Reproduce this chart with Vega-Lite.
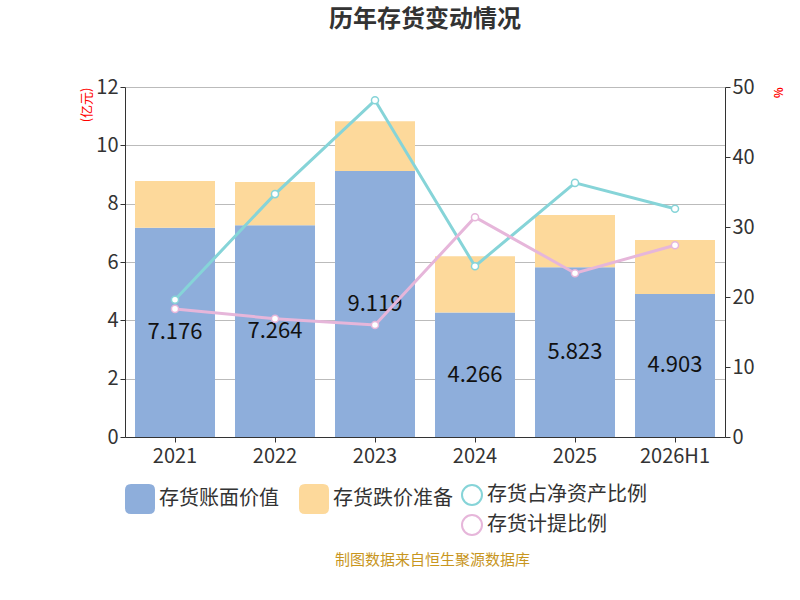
{
  "$schema": "https://vega.github.io/schema/vega-lite/v6.json",
  "padding": {"left": 80, "top": 8, "right": 0, "bottom": 5},
  "title": {"text": "制图数据来自恒生聚源数据库", "orient": "bottom", "fontSize": 15, "fontWeight": "normal", "color": "#C8961E", "offset": 14, "anchor": "middle"},
  "datasets": {
    "bars": [
      {"year": "2021", "type": "存货账面价值", "value": 7.176, "label": "7.176", "ord": 0},
      {"year": "2021", "type": "存货跌价准备", "value": 1.60, "ord": 1},
      {"year": "2022", "type": "存货账面价值", "value": 7.264, "label": "7.264", "ord": 0},
      {"year": "2022", "type": "存货跌价准备", "value": 1.48, "ord": 1},
      {"year": "2023", "type": "存货账面价值", "value": 9.119, "label": "9.119", "ord": 0},
      {"year": "2023", "type": "存货跌价准备", "value": 1.71, "ord": 1},
      {"year": "2024", "type": "存货账面价值", "value": 4.266, "label": "4.266", "ord": 0},
      {"year": "2024", "type": "存货跌价准备", "value": 1.93, "ord": 1},
      {"year": "2025", "type": "存货账面价值", "value": 5.823, "label": "5.823", "ord": 0},
      {"year": "2025", "type": "存货跌价准备", "value": 1.79, "ord": 1},
      {"year": "2026H1", "type": "存货账面价值", "value": 4.903, "label": "4.903", "ord": 0},
      {"year": "2026H1", "type": "存货跌价准备", "value": 1.85, "ord": 1}
    ],
    "lines": [
      {"year": "2021", "series": "存货占净资产比例", "pct": 19.6},
      {"year": "2022", "series": "存货占净资产比例", "pct": 34.7},
      {"year": "2023", "series": "存货占净资产比例", "pct": 48.1},
      {"year": "2024", "series": "存货占净资产比例", "pct": 24.4},
      {"year": "2025", "series": "存货占净资产比例", "pct": 36.3},
      {"year": "2026H1", "series": "存货占净资产比例", "pct": 32.6},
      {"year": "2021", "series": "存货计提比例", "pct": 18.3},
      {"year": "2022", "series": "存货计提比例", "pct": 16.9},
      {"year": "2023", "series": "存货计提比例", "pct": 16.0},
      {"year": "2024", "series": "存货计提比例", "pct": 31.4},
      {"year": "2025", "series": "存货计提比例", "pct": 23.4},
      {"year": "2026H1", "series": "存货计提比例", "pct": 27.4}
    ]
  },
  "vconcat": [
    {
      "title": {"text": "历年存货变动情况", "fontSize": 24, "fontWeight": "bold", "color": "#333333", "offset": 45},
      "width": 600,
      "height": 350,
      "encoding": {
        "x": {"field": "year", "type": "nominal", "sort": null, "title": null,
          "scale": {"paddingInner": 0.2, "paddingOuter": 0.1},
          "axis": {"labelAngle": 0, "labelFontSize": 20, "labelColor": "#333333", "domainColor": "#333333", "tickColor": "#333333", "labelPadding": 4}}
      },
      "layer": [
        {
          "data": {"name": "bars"},
          "mark": {"type": "bar"},
          "encoding": {
            "y": {"field": "value", "type": "quantitative", "stack": "zero",
              "scale": {"domain": [0, 12]},
              "axis": {"title": "(亿元)", "titleColor": "red", "titleFontSize": 13, "titleFontWeight": "normal", "titleAngle": -90, "titleAnchor": "end", "titlePadding": 2, "tickCount": 7, "labelFontSize": 20, "labelColor": "#333333", "domainColor": "#333333", "tickColor": "#333333", "gridColor": "#BBBBBB"}},
            "fill": {"field": "type", "type": "nominal", "title": null,
              "scale": {"domain": ["存货账面价值", "存货跌价准备"], "range": ["#8EAEDB", "#FDD99B"]},
              "legend": {"orient": "bottom", "direction": "horizontal", "labelFontSize": 20, "symbolType": "M-1,-0.6 Q-1,-1 -0.6,-1 L0.6,-1 Q1,-1 1,-0.6 L1,0.6 Q1,1 0.6,1 L-0.6,1 Q-1,1 -1,0.6 Z", "symbolSize": 900, "symbolStrokeWidth": 0, "columnPadding": 20, "labelColor": "#333333"}},
            "order": {"field": "ord"}
          }
        },
        {
          "data": {"name": "bars"},
          "transform": [{"filter": "datum.ord == 0"}],
          "mark": {"type": "text", "fontSize": 22, "color": "#111111"},
          "encoding": {
            "y": {"field": "value", "type": "quantitative", "stack": null, "scale": {"domain": [0, 24]}, "axis": null},
            "text": {"field": "label"}
          }
        },
        {
          "data": {"name": "lines"},
          "mark": {"type": "line", "strokeWidth": 3, "point": {"filled": true, "fill": "white", "size": 50, "strokeWidth": 1.5}},
          "encoding": {
            "y": {"field": "pct", "type": "quantitative", "scale": {"domain": [0, 50]},
              "axis": {"title": "%", "titleColor": "red", "orient": "right", "tickCount": 6, "labelFontSize": 20, "labelColor": "#333333", "domainColor": "#333333", "tickColor": "#333333", "grid": false, "titleAngle": -90, "titleAnchor": "end", "titlePadding": 30}},
            "stroke": {"field": "series", "type": "nominal", "title": null,
              "scale": {"domain": ["存货占净资产比例", "存货计提比例"], "range": ["#86D4D8", "#E6B6DA"]},
              "legend": {"orient": "bottom", "direction": "horizontal", "labelFontSize": 20, "symbolSize": 400, "symbolStrokeWidth": 2, "labelColor": "#333333", "columns": 1}}
          }
        }
      ],
      "resolve": {"scale": {"y": "independent"}}
    }
  ],
  "config": {"font": "Noto Sans CJK SC", "view": {"stroke": null}, "legend": {"layout": {"bottom": {"anchor": "start"}}}}
}
